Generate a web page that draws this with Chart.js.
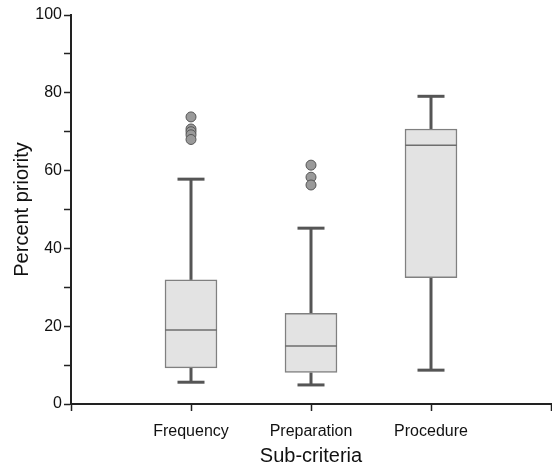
<!DOCTYPE html>
<html>
<head>
<meta charset="utf-8">
<script src="https://cdn.jsdelivr.net/npm/chart.js@4/dist/chart.umd.min.js"></script>
<style>
  html, body { margin: 0; padding: 0; background: #fff; }
  #wrap { width: 552px; height: 465px; }
</style>
</head>
<body>
<div id="wrap"><canvas id="grafico" width="552" height="465"></canvas></div>
<script>
// Box plot de prioridad por sub-criterio (cajas como barras flotantes)

// ---------- Datos ----------
const categorias = ['Frequency', 'Preparation', 'Procedure']
const minimos = [5.6, 4.9, 8.7]
const cuartil1 = [9.3, 8.1, 32.5]
const medianas = [19.0, 14.9, 66.5]
const cuartil3 = [31.9, 23.3, 70.7]
const maximos = [57.8, 45.2, 79.1]
const atipicos = [
  [73.8, 70.7, 70.0, 69.2, 68.0],
  [61.4, 58.3, 56.3],
  []
]
const ticksY = [0, 20, 40, 60, 80, 100]

// ---------- Estilo ----------
const NEGRO = '#222'
const CAJA = '#e3e3e3'
const BORDE_CAJA = '#808080'
const BIGOTE = '#555'
Chart.defaults.font.family = "'Liberation Sans', Arial, sans-serif"
Chart.defaults.color = '#111'

// posicion x de cada categoria: 1, 2, 3
const posX = i => i + 1

// Plugin para bigotes y medianas
const bigotes = {
  id: 'bigotes',
  beforeDatasetsDraw(chart) {
    const { ctx, scales: { x, y } } = chart
    ctx.save()
    ctx.strokeStyle = BIGOTE
    ctx.lineWidth = 3
    categorias.forEach((c, i) => {
      const px = x.getPixelForValue(posX(i))
      const segs = [[cuartil3[i], maximos[i]], [cuartil1[i], minimos[i]]]
      segs.forEach(([desde, hasta]) => {
        ctx.beginPath()
        ctx.moveTo(px, y.getPixelForValue(desde))
        ctx.lineTo(px, y.getPixelForValue(hasta))
        ctx.stroke()
        ctx.beginPath()
        ctx.moveTo(px - 13.5, y.getPixelForValue(hasta))
        ctx.lineTo(px + 13.5, y.getPixelForValue(hasta))
        ctx.stroke()
      })
    })
    ctx.restore()
  },
  afterDatasetDraw(chart, args) {
    if (args.index !== 0) return
    const { ctx, scales: { x, y } } = chart
    ctx.save()
    ctx.strokeStyle = '#6e6e6e'
    ctx.lineWidth = 1.5
    categorias.forEach((c, i) => {
      const px = x.getPixelForValue(posX(i))
      const py = y.getPixelForValue(medianas[i])
      ctx.beginPath()
      ctx.moveTo(px - 26, py)
      ctx.lineTo(px + 26, py)
      ctx.stroke()
    })
    ctx.restore()
  }
}

const puntosAtipicos = []
atipicos.forEach((lista, i) => lista.forEach(v => puntosAtipicos.push({ x: posX(i), y: v })))

new Chart(document.getElementById('grafico'), {
  type: 'bar',
  data: {
    datasets: [{
      type: 'bar',
      data: categorias.map((c, i) => ({ x: posX(i), y: [cuartil1[i], cuartil3[i]] })),
      backgroundColor: CAJA,
      borderColor: BORDE_CAJA,
      borderWidth: 1.5,
      borderSkipped: false,
      barThickness: 52,
      order: 2
    }, {
      type: 'scatter',
      data: puntosAtipicos,
      backgroundColor: '#9a9a9a',
      borderColor: '#555',
      borderWidth: 1,
      pointRadius: 5,
      order: 1
    }]
  },
  options: {
    responsive: false,
    animation: false,
    layout: { autoPadding: false, padding: { top: 15, right: 1, left: 0, bottom: 0 } },
    plugins: { legend: { display: false }, tooltip: { enabled: false } },
    scales: {
      x: {
        type: 'linear',
        min: 0,
        max: 4,
        offset: false,
        afterBuildTicks: s => { s.ticks = [0, 1, 2, 3, 4].map(v => ({ value: v })) },
        afterFit: s => {
          s.height = 61
          s.paddingLeft = 0
          s.paddingRight = 0
        },
        ticks: {
          font: { size: 16 },
          padding: 11,
          maxRotation: 0,
          autoSkip: false,
          callback: v => categorias[v - 1] || ''
        },
        grid: { offset: false, drawOnChartArea: false, color: NEGRO, tickLength: 7, tickWidth: 1.5 },
        border: { color: NEGRO, width: 2 },
        title: { display: true, text: 'Sub-criteria', font: { size: 20 }, padding: { top: 0, bottom: -3 } }
      },
      y: {
        min: 0,
        max: 100,
        afterFit: s => { s.width = 71 },
        ticks: {
          stepSize: 5,
          font: { size: 16 },
          padding: 2,
          callback: v => ticksY.includes(v) ? v : ''
        },
        grid: { drawOnChartArea: false, color: NEGRO, tickLength: 7, tickWidth: 1.5 },
        border: { color: NEGRO, width: 2 },
        title: { display: true, text: 'Percent priority', font: { size: 20 }, padding: { top: 10, bottom: 0 } }
      }
    }
  },
  plugins: [bigotes]
})
</script>
</body>
</html>
